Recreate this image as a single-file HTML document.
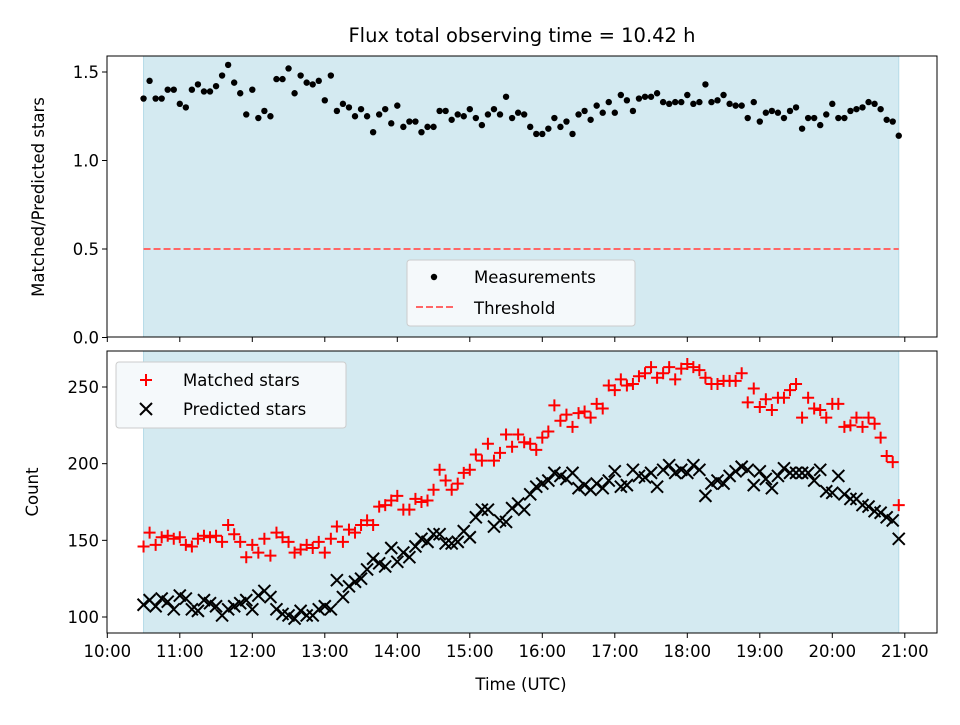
<!DOCTYPE html>
<html><head><meta charset="utf-8"><style>
body{margin:0;background:#fff;}
svg text{font-family:"DejaVu Sans","Liberation Sans",sans-serif;}
</style></head><body>
<svg id="chart" width="960" height="720" xmlns="http://www.w3.org/2000/svg">
<text x="522" y="42" font-size="19.5" text-anchor="middle">Flux total observing time = 10.42 h</text>
</svg>
<script>
const ratioValues=[1.35,1.45,1.35,1.35,1.40,1.40,1.32,1.30,1.40,1.43,1.39,1.39,1.42,1.48,1.54,1.44,1.38,1.26,1.40,1.24,1.28,1.25,1.46,1.46,1.52,1.38,1.48,1.44,1.43,1.45,1.34,1.48,1.28,1.32,1.30,1.25,1.29,1.25,1.16,1.26,1.29,1.21,1.31,1.19,1.22,1.22,1.16,1.19,1.19,1.28,1.28,1.23,1.26,1.25,1.29,1.24,1.20,1.26,1.29,1.26,1.36,1.24,1.27,1.26,1.19,
1.15,1.15,1.18,1.24,1.19,1.22,1.15,1.26,1.28,1.23,1.31,1.27,1.33,1.27,1.37,1.34,1.28,1.35,1.36,1.36,1.38,1.33,1.32,1.33,1.33,1.37,1.32,1.33,1.43,1.33,1.34,1.37,1.32,1.31,1.31,1.24,1.33,1.22,1.27,1.28,1.27,1.24,1.28,1.30,1.18,1.24,1.24,1.20,1.26,1.32,1.24,1.24,1.28,1.29,1.30,1.33,1.32,1.29,1.23,1.22,1.14];
const matchedValues=[146,155,147,152,153,151,152,147,146,151,153,152,153,149,160,154,149,139,147,142,151,140,155,152,149,142,144,147,145,149,142,151,159,
149,157,155,160,163,160,172,173,176,179,170,170,177,175,176,183,196,189,183,187,194,196,206,202,213,202,207,219,211,219,214,
213,209,217,221,238,228,232,224,233,234,230,239,236,251,248,255,251,252,257,259,263,256,259,263,255,262,265,263,261,256,252,
252,254,254,254,259,240,249,237,242,235,243,243,248,252,230,243,236,235,230,239,239,224,225,230,224,230,226,217,205,201,173];
const predictedValues=[108,111,107,112,110,105,114,112,105,104,111,109,107,101,105,107,109,111,105,114,117,113,105,102,101,99,104,101,101,105,107,105,124,
113,120,123,125,131,138,135,133,145,136,142,139,146,151,149,154,154,148,148,149,156,152,165,170,170,159,163,162,171,174,170,
180,185,187,189,194,192,190,194,184,186,183,187,184,189,195,185,186,196,192,191,194,185,196,199,194,196,194,199,196,179,187,
189,187,192,195,198,196,186,195,190,184,192,197,194,194,194,194,189,196,182,181,192,180,177,177,173,172,169,168,165,163,151];
const startMinute=630; // 10:30
const stepMinutes=5;
const thresholdValue=0.5;
const xTickLabels=["10:00","11:00","12:00","13:00","14:00","15:00","16:00","17:00","18:00","19:00","20:00","21:00"];
const topTicks=[0,0.5,1.0,1.5];
const bottomTicks=[100,150,200,250];

const NS="http://www.w3.org/2000/svg";
const svg=document.getElementById('chart');
function mk(tag,attrs,parent){const e=document.createElementNS(NS,tag);for(const k in attrs)e.setAttribute(k,attrs[k]);(parent||svg).appendChild(e);return e;}
const X0=107,X1=937;
const FS=16.5;
function xs(min){return 107.3+(min-600)/60*72.5;}
const TOP={y0:56,y1:337};const BOT={y0:351,y1:633};
function yTop(v){return 337.5-v*177;}
function yBot(v){return 617-(v-100)*1.5333;}
const times=ratioValues.map((_,i)=>startMinute+i*stepMinutes);
const tFirst=times[0],tLast=times[times.length-1];

function panel(P,name){
  const s=mk('rect',{x:xs(tFirst),y:P.y0,width:xs(tLast)-xs(tFirst),height:P.y1-P.y0,fill:'#d4eaf1',stroke:'#b5dbe8','stroke-width':1});
  
  
}
panel(TOP,'top');panel(BOT,'bottom');

const th=mk('line',{x1:xs(tFirst),x2:xs(tLast),y1:yTop(thresholdValue),y2:yTop(thresholdValue),stroke:'#ff6666','stroke-width':2,'stroke-dasharray':'7,3'});



ratioValues.forEach((v,i)=>{
  const c=mk('circle',{cx:xs(times[i]),cy:yTop(v),r:3.2,fill:'#000'});
  
  
});
matchedValues.forEach((v,i)=>{
  const x=xs(times[i]),y=yBot(v);
  const p=mk('path',{d:`M${x-6},${y}H${x+6}M${x},${y-6}V${y+6}`,stroke:'#ff0000','stroke-width':2});
  
  
});
predictedValues.forEach((v,i)=>{
  const x=xs(times[i]),y=yBot(v),d=6;
  const p=mk('path',{d:`M${x-d},${y-d}L${x+d},${y+d}M${x-d},${y+d}L${x+d},${y-d}`,stroke:'#000','stroke-width':2});
  
  
});

function frame(P,name,ticks,yf,labels){
  const r=mk('rect',{x:X0,y:P.y0,width:X1-X0,height:P.y1-P.y0,fill:'none',stroke:'#000','stroke-width':1});
  
  
  ticks.forEach(t=>{
    const y=yf(t);
    mk('line',{x1:X0-5,x2:X0,y1:y,y2:y,stroke:'#000'});
    const tx=mk('text',{x:X0-8,y:y+6,'font-size':FS,'text-anchor':'end'});
    tx.textContent=name==='top'?t.toFixed(1):t;
    
    
  });
  xTickLabels.forEach((l,i)=>{
    const x=xs(600+i*60);
    mk('line',{x1:x,x2:x,y1:P.y1,y2:P.y1+5,stroke:'#000'});
    if(labels){
      const tx=mk('text',{x:x,y:P.y1+24,'font-size':FS,'text-anchor':'middle'});
      tx.textContent=l;
      
      
    }
  });
}
frame(TOP,'top',topTicks,yTop,false);
frame(BOT,'bottom',bottomTicks,yBot,true);

function txt(s,attrs,name){const t=mk('text',attrs);t.textContent=s;return t;}
txt('Matched/Predicted stars',{x:44,y:197,'font-size':FS,'text-anchor':'middle',transform:'rotate(-90 44 197)'},'top-y-axis-title');
txt('Count',{x:38,y:492,'font-size':FS,'text-anchor':'middle',transform:'rotate(-90 38 492)'},'bottom-y-axis-title');
txt('Time (UTC)',{x:521,y:690,'font-size':FS,'text-anchor':'middle'},'x-axis-title');

const lg1=mk('g',{});
mk('rect',{x:407,y:260,width:228,height:66,rx:3,fill:'#f5f9fb',stroke:'#cccccc'},lg1);
mk('circle',{cx:434,cy:277,r:3.2,fill:'#000'},lg1);
mk('line',{x1:416,x2:456,y1:307,y2:307,stroke:'#ff6666','stroke-width':2,'stroke-dasharray':'7,3'},lg1);
lg1.appendChild(txt('Measurements',{x:474,y:283,'font-size':FS},'legend-measurements'));
lg1.appendChild(txt('Threshold',{x:474,y:314,'font-size':FS},'legend-threshold'));

const lg2=mk('g',{});
mk('rect',{x:116,y:362,width:230,height:66,rx:3,fill:'#f5f9fb',stroke:'#cccccc'},lg2);
mk('path',{d:'M140,380H152M146,374V386',stroke:'#ff0000','stroke-width':2},lg2);
mk('path',{d:'M140,403L152,415M140,415L152,403',stroke:'#000','stroke-width':2},lg2);
lg2.appendChild(txt('Matched stars',{x:183,y:386,'font-size':FS},'legend-matched-stars'));
lg2.appendChild(txt('Predicted stars',{x:183,y:415,'font-size':FS},'legend-predicted-stars'));
</script>
</body></html>
